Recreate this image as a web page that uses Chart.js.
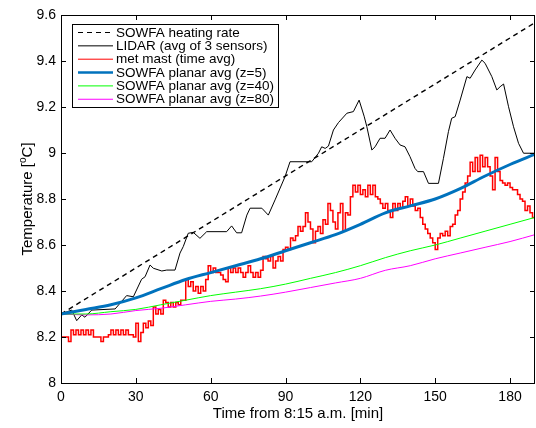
<!DOCTYPE html>
<html><head><meta charset="utf-8">
<script src="https://cdn.jsdelivr.net/npm/chart.js@4.4.0/dist/chart.umd.min.js"></script>
<style>html,body{margin:0;padding:0;background:#fff;}</style>
</head><body>
<canvas id="c" width="536" height="428"></canvas>
<script>
// ---- data ----
const heatT = [0, 190];
const heatV = [8.30, 9.567];

const lidarT = [0,2.5,4.3,6.3,8.3,9.6,12.3,21.7,26.3,29,32.3,33.7,35.7,37,40.4,42.4,45.7,47.7,49,51,53,55.7,58.4,66.4,68.4,70.4,72.4,74.5,75.8,80.5,83.1,85.8,89.8,91.8,100.5,103.2,104.5,105.9,107.2,109.2,111.2,114.6,117.2,119.5,121.5,122.6,124.6,125.9,127.9,129.9,131.9,133.9,135.9,137.9,139.9,141.9,143,145.3,147.3,151.3,153.3,155.3,156.6,158,160,162.7,164,166,168.7,170,172.7,174.7,176,177.4,179.4,181.4,183.4,185.4,190];
const lidarV = [8.30,8.31,8.317,8.271,8.296,8.286,8.317,8.322,8.38,8.375,8.451,8.462,8.513,8.499,8.487,8.491,8.491,8.565,8.593,8.651,8.655,8.629,8.658,8.658,8.683,8.653,8.653,8.73,8.76,8.76,8.73,8.796,8.897,8.962,8.962,8.999,9.027,9.02,9.03,9.10,9.132,9.173,9.18,9.23,9.16,9.114,9.013,9.027,9.064,9.064,9.10,9.064,9.035,9.027,8.984,8.933,8.919,8.919,8.868,8.868,8.977,9.093,9.151,9.158,9.23,9.332,9.325,9.361,9.404,9.39,9.332,9.274,9.288,9.30,9.201,9.114,9.042,8.999,8.999];

// met mast, one value per minute from t = 0
const metV = [
8.20,8.20,8.20,8.18,8.23,8.21,8.23,8.21,8.23,8.21,
8.23,8.21,8.23,8.20,8.20,8.20,8.18,8.20,8.20,8.21,
8.23,8.21,8.23,8.21,8.23,8.21,8.23,8.21,8.21,8.20,
8.26,8.18,8.22,8.26,8.24,8.27,8.25,8.33,8.30,8.32,
8.30,8.36,8.35,8.33,8.35,8.33,8.35,8.34,8.36,8.36,
8.45,8.42,8.44,8.40,8.42,8.39,8.42,8.40,8.45,8.51,
8.48,8.50,8.48,8.48,8.47,8.45,8.44,8.50,8.48,8.50,
8.48,8.50,8.48,8.46,8.48,8.51,8.48,8.46,8.48,8.46,
8.49,8.55,8.54,8.53,8.55,8.50,8.53,8.55,8.53,8.58,
8.59,8.58,8.63,8.62,8.64,8.68,8.66,8.68,8.74,8.70,
8.67,8.61,8.66,8.68,8.65,8.71,8.69,8.78,8.75,8.70,
8.67,8.74,8.78,8.66,8.74,8.73,8.81,8.86,8.83,8.86,
8.82,8.84,8.81,8.86,8.82,8.86,8.81,8.80,8.78,8.76,
8.78,8.75,8.72,8.78,8.75,8.78,8.76,8.79,8.81,8.77,
8.80,8.77,8.75,8.76,8.72,8.69,8.67,8.65,8.63,8.61,
8.58,8.63,8.65,8.64,8.66,8.64,8.68,8.69,8.73,8.75,
8.80,8.83,8.87,8.90,8.96,8.92,8.98,8.92,8.99,8.94,
8.98,8.94,8.90,8.84,8.98,8.92,8.88,8.87,8.86,8.87,
8.85,8.84,8.84,8.82,8.80,8.79,8.75,8.77,8.74,8.72,
8.74];

const planT = [0,10,20,30,40,50,60,70,80,90,100,110,120,130,140,150,160,170,180,190];
const z5V  = [8.30,8.32,8.34,8.37,8.41,8.45,8.48,8.51,8.54,8.575,8.61,8.645,8.69,8.74,8.77,8.80,8.845,8.90,8.95,8.995];
const z40V = [8.30,8.30,8.31,8.32,8.34,8.36,8.38,8.395,8.41,8.43,8.455,8.48,8.51,8.545,8.575,8.60,8.63,8.66,8.69,8.72];
const z80V = [8.30,8.296,8.30,8.315,8.325,8.34,8.355,8.365,8.378,8.395,8.415,8.435,8.455,8.49,8.51,8.54,8.565,8.59,8.615,8.645];

const xTicks = [0,30,60,90,120,150,180];
const yTicks = [8,8.2,8.4,8.6,8.8,9,9.2,9.4,9.6];
const labels = ['SOWFA heating rate','LIDAR (avg of 3 sensors)','met mast (time avg)','SOWFA planar avg (z=5)','SOWFA planar avg (z=40)','SOWFA planar avg (z=80)'];
const xTitle = 'Time from 8:15 a.m. [min]';

const FONT = '"Liberation Sans", Arial, Helvetica, sans-serif';
const pts = (t, v) => t.map((x, i) => ({x: x, y: v[i]}));

const datasets = [
  {label: labels[0], data: pts(heatT, heatV), borderColor: '#000', borderWidth: 1.4, borderDash: [5,4], order: 5},
  {label: labels[1], data: pts(lidarT, lidarV), borderColor: '#000', borderWidth: 1, order: 4},
  {label: labels[2], data: metV.map((v, i) => ({x: i, y: v})), borderColor: '#ff0000', borderWidth: 1.5, stepped: 'before', order: 3},
  {label: labels[3], data: pts(planT, z5V), borderColor: '#0072bd', borderWidth: 3, cubicInterpolationMode: 'monotone', order: 0},
  {label: labels[4], data: pts(planT, z40V), borderColor: '#00ff00', borderWidth: 1, cubicInterpolationMode: 'monotone', order: 1},
  {label: labels[5], data: pts(planT, z80V), borderColor: '#ff00ff', borderWidth: 1, cubicInterpolationMode: 'monotone', order: 2}
];
datasets.forEach(d => { d.pointRadius = 0; d.fill = false; });

const framePlugin = {
  id: 'frame',
  afterDraw(chart) {
    const ctx = chart.ctx, a = chart.chartArea;
    const xs = chart.scales.x, ys = chart.scales.y;
    ctx.save();
    ctx.strokeStyle = '#000'; ctx.lineWidth = 1; ctx.setLineDash([]);
    ctx.strokeRect(Math.round(a.left) + 0.5, Math.round(a.top) + 0.5, Math.round(a.right - a.left) - 1, Math.round(a.bottom - a.top));
    const L = 5;
    ctx.beginPath();
    xTicks.forEach(v => {
      const px = Math.round(xs.getPixelForValue(v)) + 0.5;
      ctx.moveTo(px, a.bottom); ctx.lineTo(px, a.bottom - L);
      ctx.moveTo(px, a.top); ctx.lineTo(px, a.top + L);
    });
    yTicks.forEach(v => {
      const py = Math.round(ys.getPixelForValue(v)) + 0.5;
      ctx.moveTo(a.left, py); ctx.lineTo(a.left + L, py);
      ctx.moveTo(a.right, py); ctx.lineTo(a.right - L, py);
    });
    ctx.stroke();

    // y title with superscript o
    ctx.fillStyle = '#000';
    ctx.textBaseline = 'alphabetic';
    const f1 = '15px ' + FONT, f2 = '10px ' + FONT;
    ctx.font = f1; const w1 = ctx.measureText('Temperature [').width; const w3 = ctx.measureText('C]').width;
    ctx.font = f2; const w2 = ctx.measureText('o').width;
    const tot = w1 + w2 + w3;
    ctx.translate(32, (a.top + a.bottom) / 2);
    ctx.rotate(-Math.PI / 2);
    let x0 = -tot / 2;
    ctx.font = f1; ctx.fillText('Temperature [', x0, 0);
    ctx.font = f2; ctx.fillText('o', x0 + w1, -6);
    ctx.font = f1; ctx.fillText('C]', x0 + w1 + w2, 0);
    ctx.restore();

    // legend
    ctx.save();
    const bx = 72.5, by = 24.5, bw = 206, bh = 83;
    ctx.fillStyle = '#fff'; ctx.fillRect(bx, by, bw, bh);
    ctx.strokeStyle = '#000'; ctx.lineWidth = 1; ctx.strokeRect(bx, by, bw, bh);
    ctx.font = '13.5px ' + FONT; ctx.textBaseline = 'middle'; ctx.fillStyle = '#000';
    chart.data.datasets.forEach((d, i) => {
      const yy = 32.5 + i * 13.35;
      ctx.beginPath();
      ctx.strokeStyle = d.borderColor;
      ctx.lineWidth = d.borderWidth > 2 ? 2.5 : (i === 0 ? 1.2 : 1);
      ctx.setLineDash(d.borderDash || []);
      ctx.moveTo(78, yy); ctx.lineTo(113, yy); ctx.stroke();
      ctx.setLineDash([]);
      ctx.fillText(d.label, 116, yy + 0.5);
    });
    ctx.restore();
  }
};

new Chart(document.getElementById('c'), {
  type: 'line',
  data: {datasets: datasets},
  options: {
    responsive: false, animation: false, devicePixelRatio: 1,
    layout: {padding: {top: 15, right: 1, left: 0, bottom: 0}},
    plugins: {legend: {display: false}, tooltip: {enabled: false}},
    scales: {
      x: {
        type: 'linear', min: 0, max: 190,
        afterBuildTicks: s => { s.ticks = xTicks.map(v => ({value: v})); },
        afterFit: s => { s.height = 45; },
        grid: {display: false, drawTicks: false}, border: {display: false},
        ticks: {color: '#000', font: {family: FONT, size: 14}, padding: 6, maxRotation: 0, autoSkip: false},
        title: {display: true, text: xTitle, color: '#000', font: {family: FONT, size: 15}, padding: {top: 0, bottom: 5}}
      },
      y: {
        type: 'linear', min: 8, max: 9.6,
        afterBuildTicks: s => { s.ticks = yTicks.map(v => ({value: v})); },
        afterFit: s => { s.width = 61; },
        grid: {display: false, drawTicks: false}, border: {display: false},
        ticks: {color: '#000', font: {family: FONT, size: 14}, padding: 5, callback: v => String(Number(v.toFixed(1)))}
      }
    }
  },
  plugins: [framePlugin]
});
</script>
</body></html>
